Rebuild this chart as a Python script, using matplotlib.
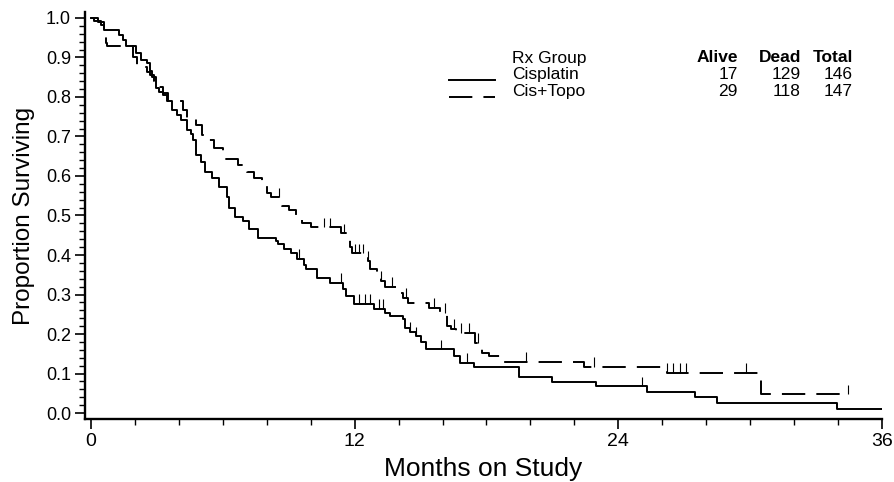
import numpy as np
import matplotlib
matplotlib.use("Agg")
import matplotlib.pyplot as plt
from matplotlib.lines import Line2D

plt.rcParams['font.family'] = ['Liberation Sans', 'DejaVu Sans']

# ------ Kaplan-Meier steps (time in months, survival after the step) ------
cis_t = [0, 0.15, 0.45, 0.6, 1.3, 1.45, 1.6, 2.05, 2.3, 2.55, 2.7, 2.8, 2.95, 3.1, 3.3,
         3.45, 3.7, 3.9, 4.1, 4.35, 4.55, 4.65, 4.8, 5.0, 5.2, 5.5, 5.85, 6.2, 6.3, 6.55,
         6.9, 7.2, 7.6, 8.4, 8.5, 8.8, 9.1, 9.4, 9.7, 9.8, 10.3, 10.9, 11.45, 11.6, 11.95,
         12.9, 13.4, 13.6, 14.2, 14.3, 14.5, 14.8, 15.0, 15.25, 16.5, 16.8, 17.45, 19.5,
         21.0, 23.0, 25.3, 27.5, 28.5, 33.95, 36.0]
cis_s = [1.0, 0.993, 0.982, 0.97, 0.958, 0.945, 0.93, 0.91, 0.893, 0.886, 0.865, 0.85,
         0.822, 0.812, 0.805, 0.79, 0.766, 0.755, 0.741, 0.716, 0.705, 0.69, 0.652, 0.635,
         0.609, 0.594, 0.571, 0.546, 0.52, 0.495, 0.487, 0.467, 0.444, 0.435, 0.429, 0.416,
         0.406, 0.39, 0.375, 0.365, 0.343, 0.33, 0.315, 0.297, 0.277, 0.264, 0.254, 0.246,
         0.238, 0.216, 0.206, 0.195, 0.18, 0.162, 0.145, 0.127, 0.117, 0.091, 0.079, 0.068,
         0.053, 0.04, 0.025, 0.01, 0.01]

topo_t = [0, 0.3, 0.6, 0.7, 0.75, 1.9, 2.1, 2.55, 2.7, 2.85, 3.0, 3.3, 3.5, 4.2, 4.35,
          4.8, 5.05, 5.3, 5.6, 6.0, 6.1, 6.7, 7.1, 7.4, 7.8, 8.0, 8.2, 8.7, 9.0, 9.35, 9.6,
          10.0, 11.4, 11.6, 11.8, 11.9, 12.6, 12.7, 13.0, 13.2, 13.4, 14.0, 14.2, 14.45,
          15.4, 15.9, 16.2, 16.4, 16.6, 17.5, 17.8, 18.1, 18.6, 22.45, 26.2, 30.5, 34.45]
topo_s = [1.0, 0.99, 0.962, 0.937, 0.93, 0.9, 0.876, 0.863, 0.855, 0.84, 0.825, 0.81,
          0.79, 0.766, 0.746, 0.728, 0.703, 0.69, 0.67, 0.657, 0.642, 0.627, 0.609, 0.594,
          0.584, 0.558, 0.546, 0.525, 0.513, 0.495, 0.482, 0.47, 0.455, 0.437, 0.42, 0.404,
          0.385, 0.365, 0.35, 0.335, 0.32, 0.305, 0.292, 0.279, 0.267, 0.254, 0.22, 0.213,
          0.203, 0.178, 0.152, 0.145, 0.13, 0.117, 0.102, 0.048, 0.048]

# censored observations (months)
cis_cens = [9.45, 11.4, 12.2, 12.45, 12.7, 13.1, 13.3, 14.5, 14.8, 15.95, 17.1, 25.1]
topo_cens = [8.55, 10.6, 10.9, 11.5, 12.0, 12.2, 12.4, 12.6, 13.2, 13.7, 14.35, 15.6,
             16.1, 16.5, 16.85, 17.2, 17.6, 19.8, 22.9, 26.2, 26.5, 26.8, 27.1, 29.8, 34.45]

groups = ['Cisplatin', 'Cis+Topo']
alive = [17, 29]
dead = [129, 118]
total = [146, 147]

W, H = 895, 482
fig = plt.figure(figsize=(W / 100, H / 100), dpi=100)
ax = fig.add_axes([85 / W, 1 - 419 / H, 797 / W, 407 / H])

dash = (0, (12, 5.7))
lw = 1.4


def level(ts, ss, t):
    i = np.searchsorted(ts, t, side='right') - 1
    return ss[i]


for ts, ss, cens, ls in [(cis_t, cis_s, cis_cens, '-'), (topo_t, topo_s, topo_cens, dash)]:
    ax.step(ts, ss, where='post', color='black', lw=lw, linestyle=ls)
    base = [level(ts, ss, c) for c in cens]
    ax.vlines(cens, base, np.array(base) + 0.024, color='black', lw=0.8)

ax.set_xlim(-0.27, 36.0)
ax.set_ylim(-0.015, 1.015)
ax.set_xticks([0, 12, 24, 36])
ax.set_xticks(np.arange(0, 37, 2), minor=True)
ax.set_xticklabels(['0', '12', '24', '36'],
                   family=['Liberation Sans Narrow', 'Liberation Sans'], fontsize=14)
ax.set_yticks(np.arange(0, 1.01, 0.1))
ax.set_yticks(np.arange(0, 1.001, 0.02), minor=True)
ax.set_yticklabels([f'{v:.1f}' for v in np.arange(0, 1.01, 0.1)], fontsize=13)
ax.tick_params(which='major', length=7, width=1.2, pad=3)
ax.tick_params(which='minor', length=4, width=1.0)
for side in ['top', 'right']:
    ax.spines[side].set_visible(False)
for side in ['left', 'bottom']:
    ax.spines[side].set_linewidth(1.7)

ax.set_xlabel('Months on Study', fontsize=19, labelpad=5)
ax.set_ylabel('Proportion Surviving', fontsize=17.5, labelpad=8)


def fx(px):
    return px / W


def fy(py):
    return 1 - py / H


# ------ legend table ------
fs = 12.5
fig.text(fx(512), fy(58), 'Rx Group', fontsize=fs, va='center')
fig.text(fx(738), fy(58), 'Alive', fontsize=fs, va='center', ha='right', weight='bold')
fig.text(fx(801), fy(58), 'Dead', fontsize=fs, va='center', ha='right', weight='bold')
fig.text(fx(853), fy(58), 'Total', fontsize=fs, va='center', ha='right', weight='bold')
for i, (g, ls) in enumerate(zip(groups, ['-', dash])):
    y = 74.5 + i * 17
    fig.add_artist(Line2D([fx(449), fx(495)], [fy(y + 5), fy(y + 5)], color='black',
                          lw=lw, linestyle=ls, transform=fig.transFigure))
    fig.text(fx(512), fy(y), g, fontsize=fs, va='center')
    fig.text(fx(738), fy(y), str(alive[i]), fontsize=fs, va='center', ha='right')
    fig.text(fx(801), fy(y), str(dead[i]), fontsize=fs, va='center', ha='right')
    fig.text(fx(853), fy(y), str(total[i]), fontsize=fs, va='center', ha='right')

fig.savefig('out.png', dpi=100)
